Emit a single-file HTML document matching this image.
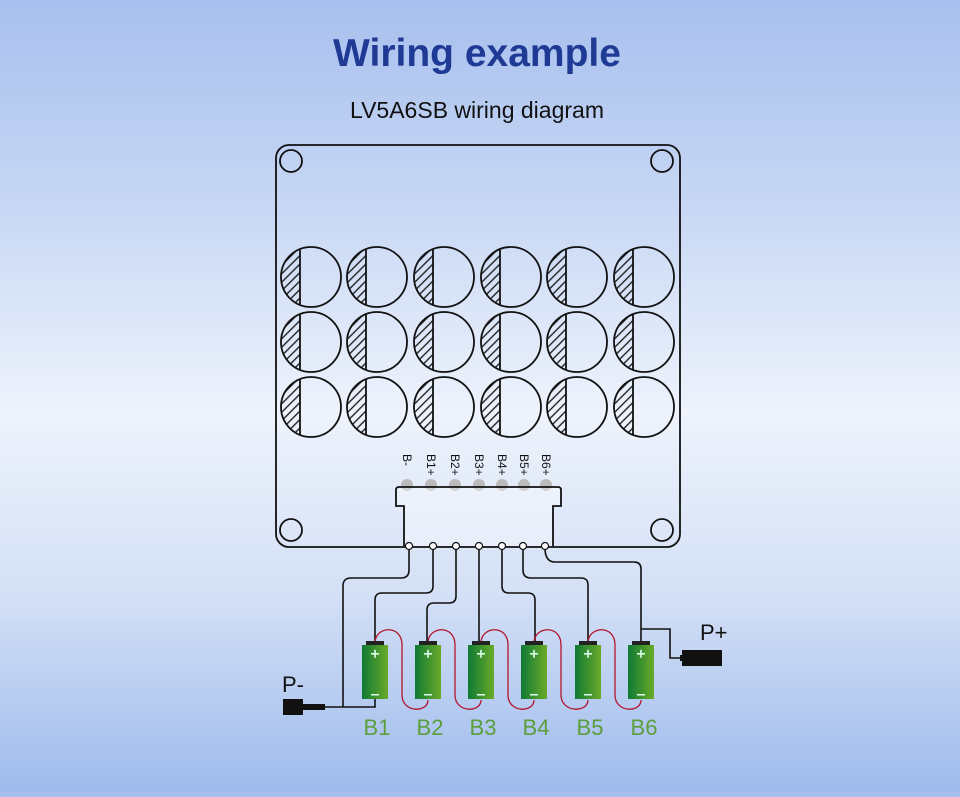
<!DOCTYPE html>
<html><head><meta charset="utf-8"><style>
html,body{margin:0;padding:0}
body{width:960px;height:792px;overflow:hidden;background:linear-gradient(180deg,#a8c0ee 0%,#c6d6f4 25%,#eef3fc 52%,#d4e0f6 75%,#9ebbec 100%);font-family:"Liberation Sans",sans-serif}
</style></head><body>
<svg width="960" height="792" viewBox="0 0 960 792" xmlns="http://www.w3.org/2000/svg">
<defs>
<pattern id="h" patternUnits="userSpaceOnUse" width="6" height="6" patternTransform="rotate(45)"><line x1="1" y1="0" x2="1" y2="6" stroke="#111" stroke-width="1.3"/></pattern>
<linearGradient id="bat" x1="0" x2="1"><stop offset="0" stop-color="#0f7a34"/><stop offset="1" stop-color="#6aaa2a"/></linearGradient>
<g id="c" stroke="#111" stroke-width="1.8">
<path d="M-11,-28 A30,30 0 0 0 -11,28 Z" fill="url(#h)" stroke="none"/>
<circle cx="0" cy="0" r="30" fill="none"/>
<line x1="-11" y1="-28" x2="-11" y2="28"/>
</g>
<g id="b">
<rect x="-9" y="641" width="18" height="5" fill="#222"/>
<rect x="-13" y="645" width="26" height="54" fill="url(#bat)"/>
<rect x="-4" y="653" width="8" height="1.6" fill="#dfe"/>
<rect x="-0.8" y="649.8" width="1.6" height="8" fill="#dfe"/>
<rect x="-4" y="694" width="8" height="1.5" fill="#dfe"/>
</g>
</defs>
<text x="477" y="66" text-anchor="middle" font-size="39" font-weight="bold" fill="#1e3a94">Wiring example</text>
<text x="477" y="118" text-anchor="middle" font-size="23" fill="#111">LV5A6SB wiring diagram</text>
<g fill="none" stroke="#111" stroke-width="1.8">
<rect x="276" y="145" width="404" height="402" rx="13"/>
<circle cx="291" cy="161" r="11"/><circle cx="662" cy="161" r="11"/>
<circle cx="291" cy="530" r="11"/><circle cx="662" cy="530" r="11"/>
</g>
<use href="#c" x="311" y="277"/><use href="#c" x="377" y="277"/><use href="#c" x="444" y="277"/><use href="#c" x="511" y="277"/><use href="#c" x="577" y="277"/><use href="#c" x="644" y="277"/>
<use href="#c" x="311" y="342"/><use href="#c" x="377" y="342"/><use href="#c" x="444" y="342"/><use href="#c" x="511" y="342"/><use href="#c" x="577" y="342"/><use href="#c" x="644" y="342"/>
<use href="#c" x="311" y="407"/><use href="#c" x="377" y="407"/><use href="#c" x="444" y="407"/><use href="#c" x="511" y="407"/><use href="#c" x="577" y="407"/><use href="#c" x="644" y="407"/>
<g fill="#bbb"><circle cx="407" cy="485" r="6"/><circle cx="431" cy="485" r="6"/><circle cx="455" cy="485" r="6"/><circle cx="479" cy="485" r="6"/><circle cx="502" cy="485" r="6"/><circle cx="524" cy="485" r="6"/><circle cx="546" cy="485" r="6"/></g>
<g font-size="12" fill="#111">
<text transform="translate(403,454) rotate(90)">B-</text>
<text transform="translate(427,454) rotate(90)">B1+</text>
<text transform="translate(451,454) rotate(90)">B2+</text>
<text transform="translate(475,454) rotate(90)">B3+</text>
<text transform="translate(498,454) rotate(90)">B4+</text>
<text transform="translate(520,454) rotate(90)">B5+</text>
<text transform="translate(542,454) rotate(90)">B6+</text>
</g>
<path d="M404,546 L404,506 L396,506 L396,490 Q396,487 399,487 L558,487 Q561,487 561,490 L561,506 L553,506 L553,546" fill="#fff" fill-opacity="0.35" stroke="#111" stroke-width="1.8"/>
<g fill="none" stroke="#111" stroke-width="1.6">
<path d="M409,548 V570 Q409,578 401,578 H351 Q343,578 343,586 V707"/>
<path d="M302,707 H375 V699"/>
<path d="M433,548 V586 Q433,593 426,593 H382 Q375,593 375,600 V642"/>
<path d="M456,548 V596 Q456,603 449,603 H434 Q427,603 427,610 V642"/>
<path d="M479,548 V642"/>
<path d="M502,548 V586 Q502,593 509,593 H528 Q535,593 535,600 V642"/>
<path d="M523,548 V570 Q523,578 531,578 H581 Q588,578 588,585 V642"/>
<path d="M545,548 Q545,562 555,562 H634 Q641,562 641,569 V642"/>
<path d="M641,629 H670 V658 H682"/>
</g>
<g fill="#fff" stroke="#111" stroke-width="1.2">
<circle cx="409" cy="546" r="3.5"/><circle cx="433" cy="546" r="3.5"/><circle cx="456" cy="546" r="3.5"/><circle cx="479" cy="546" r="3.5"/><circle cx="502" cy="546" r="3.5"/><circle cx="523" cy="546" r="3.5"/><circle cx="545" cy="546" r="3.5"/>
</g>
<g fill="none" stroke="#b3152a" stroke-width="1.3">
<path d="M375,643 C375,626 402,624 402,645 L402,695 C402,713 428,713 428,700"/>
<path d="M428,643 C428,626 455,624 455,645 L455,695 C455,713 481,713 481,700"/>
<path d="M481,643 C481,626 508,624 508,645 L508,695 C508,713 534,713 534,700"/>
<path d="M534,643 C534,626 561,624 561,645 L561,695 C561,713 588,713 588,700"/>
<path d="M588,643 C588,626 615,624 615,645 L615,695 C615,713 641,713 641,700"/>
</g>
<use href="#b" x="375" y="0"/><use href="#b" x="428" y="0"/><use href="#b" x="481" y="0"/><use href="#b" x="534" y="0"/><use href="#b" x="588" y="0"/><use href="#b" x="641" y="0"/>
<g font-size="22" fill="#5c9e3c" text-anchor="middle">
<text x="377" y="735">B1</text><text x="430" y="735">B2</text><text x="483" y="735">B3</text><text x="536" y="735">B4</text><text x="590" y="735">B5</text><text x="644" y="735">B6</text>
</g>
<rect x="682" y="650" width="40" height="16" fill="#111"/><rect x="680" y="655" width="10" height="6" fill="#111"/>
<rect x="283" y="699" width="20" height="16" fill="#111"/><rect x="300" y="704" width="25" height="6" fill="#111"/>
<text x="700" y="640" font-size="22" fill="#111">P+</text>
<text x="282" y="692" font-size="22" fill="#111">P-</text>
</svg>
</body></html>
